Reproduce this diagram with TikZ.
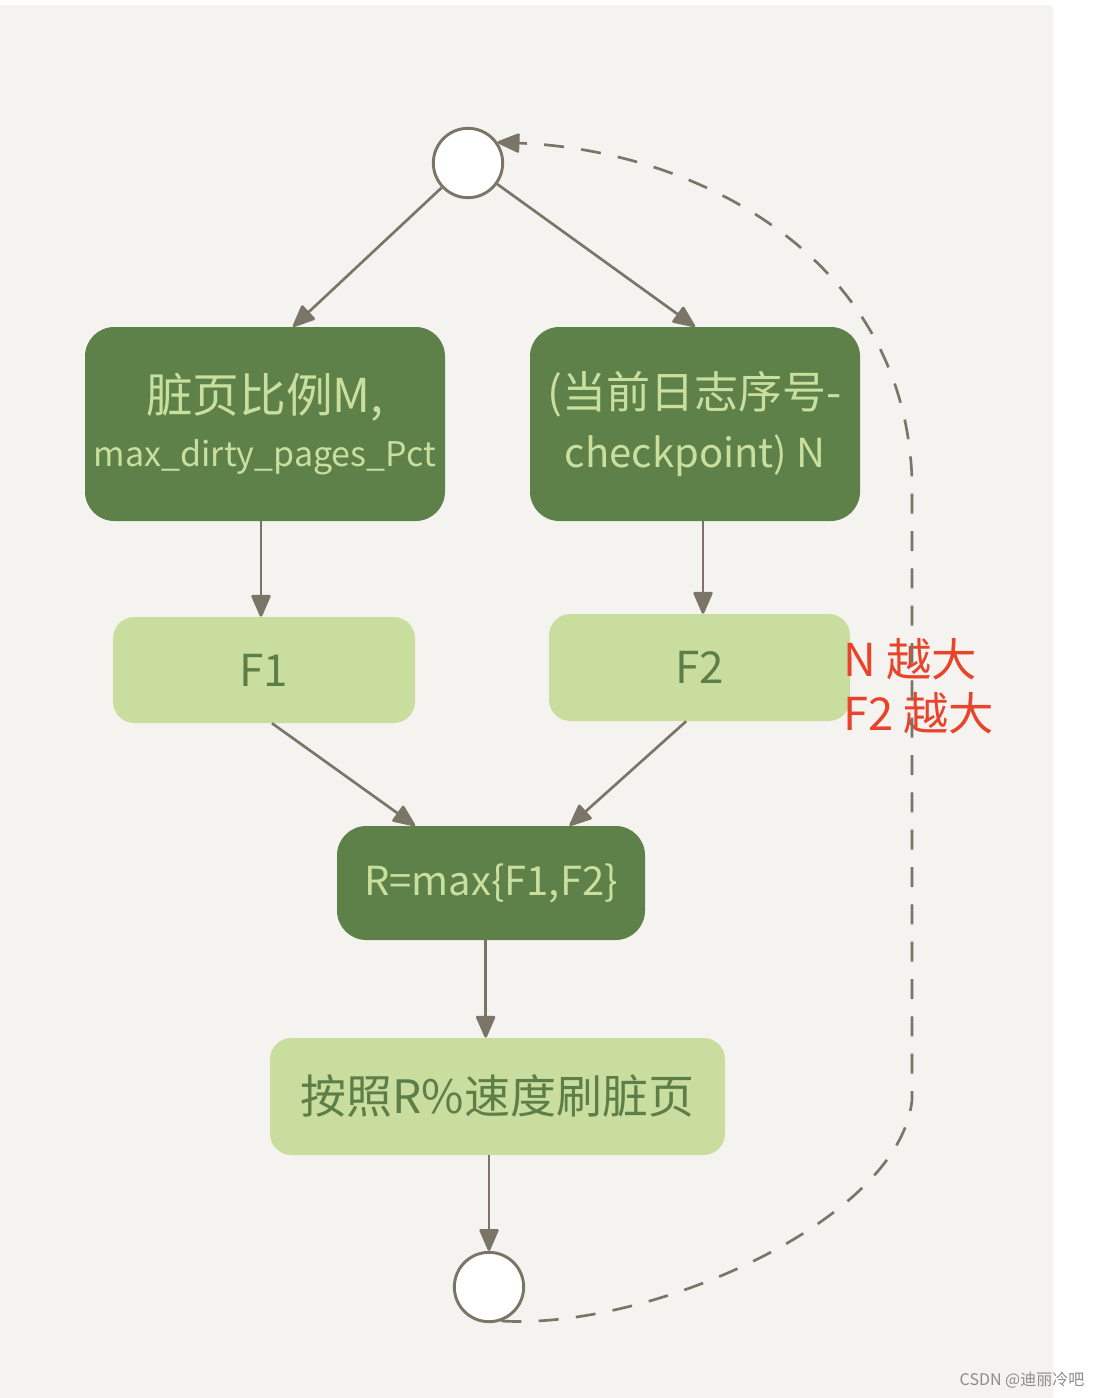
\documentclass[tikz,border=0pt]{standalone}
\usepackage{fontspec}
\setmainfont{Noto Sans CJK SC}
\usetikzlibrary{arrows.meta,calc}
\definecolor{bg}{HTML}{F4F3EF}
\definecolor{dk}{HTML}{5E8049}
\definecolor{lt}{HTML}{C9DE9E}
\definecolor{dktext}{HTML}{C9DF9E}
\definecolor{lttext}{HTML}{5D7E48}
\definecolor{arr}{HTML}{7B7568}
\definecolor{redtxt}{HTML}{E8442C}
\tikzset{
  darkbox/.style={fill=dk, text=dktext, rounded corners=22pt, inner sep=0pt, align=center},
  lightbox/.style={fill=lt, text=lttext, rounded corners=16pt, inner sep=0pt, align=center},
  ring/.style={circle, draw=arr, line width=2.2pt, fill=white, minimum size=52pt, inner sep=0pt},
  headtip/.tip={Triangle[length=18pt,width=15pt,round]},
  conn/.style={draw=arr, line width=2pt, -headtip},
  loopline/.style={draw=arr, line width=2pt, dash pattern=on 15pt off 13pt, -headtip},
}
\begin{document}
\begin{tikzpicture}[x=0.75pt,y=-0.75pt]
\useasboundingbox (0,0) rectangle (1106,1398);
\fill[white] (0,0) rectangle (1106,1398);
\fill[bg] (0,5) -- (1041,5) .. controls (1053,5) .. (1053,17) -- (1053,1398) -- (0,1398) -- cycle;

\node[ring] (top) at (468,163) {};
\node[ring] (bot) at (489,1287) {};

\node[darkbox, minimum width=270pt, minimum height=145.5pt] (b1) at (265,424)
  {{\fontsize{35}{40}\selectfont 脏页比例M,}\\[12pt]{\fontsize{25.5}{30}\selectfont max\_dirty\_pages\_Pct}};
\node[darkbox, minimum width=247.5pt, minimum height=145.5pt] (b2) at (695,424)
  {{\fontsize{33}{40}\selectfont (当前日志序号-}\\[12pt]{\fontsize{30}{36}\selectfont checkpoint) N}};
\node[lightbox, minimum width=226.5pt, minimum height=79.5pt] (f1) at (264,670)
  {\fontsize{33}{38}\selectfont F1};
\node[lightbox, minimum width=225.75pt, minimum height=80.25pt] (f2) at (699.5,667.5)
  {\fontsize{33}{38}\selectfont F2};
\node[darkbox, minimum width=231pt, minimum height=85.5pt] (r) at (491,883)
  {\fontsize{30}{36}\selectfont R=max\{F1,F2\}};
\node[lightbox, minimum width=341.25pt, minimum height=87.75pt] (bb) at (497.5,1096.5)
  {\fontsize{34.5}{40}\selectfont 按照R\%速度刷脏页};

\node[text=redtxt, anchor=west, align=left, inner sep=0pt] (note) at (843,686)
  {\fontsize{34}{41}\selectfont N 越大\\[8pt]\fontsize{34}{41}\selectfont F2 越大};

\node[text=black!45, inner sep=0pt] (wm) at (1022,1380) {\fontsize{12}{14}\selectfont CSDN @迪丽冷吧};

\draw[conn] (top) -- ([xshift=21pt]b1.north);
\draw[conn] (top) -- (b2.north);
\draw[conn] ([xshift=-3pt]b1.south) -- ([xshift=-3pt]b1.south |- f1.north);
\draw[conn] ([xshift=6pt]b2.south) -- ([xshift=6pt]b2.south |- f2.north);
\draw[conn] ([xshift=6pt]f1.south) -- ([xshift=-57pt]r.north);
\draw[conn] ([xshift=-10pt]f2.south) -- ([xshift=59pt]r.north);
\draw[conn] ([xshift=-4pt]r.south) -- ([xshift=-4pt]r.south |- bb.north);
\draw[conn] (bb.south -| bot) -- (bot.north);
\draw[loopline] (bot.-70) .. controls (650,1330) and (900,1220) .. (912,1100)
  -- (912,480) .. controls (905,260) and (700,150) .. (top.35);
\end{tikzpicture}
\end{document}
